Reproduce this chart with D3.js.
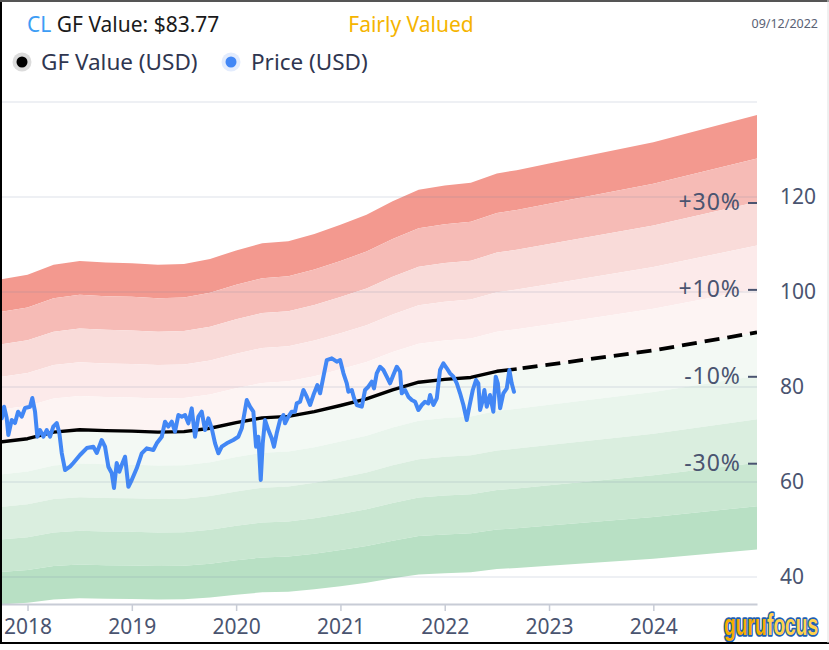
<!DOCTYPE html>
<html><head><meta charset="utf-8">
<script src="https://cdn.jsdelivr.net/npm/d3@7"></script>
<style>body{margin:0;background:#fff;} svg{display:block;font-family:"Noto Sans",sans-serif;}</style>
</head><body><svg id="c" width="829" height="650"></svg>
<script>
// ---- data ----
const ticker = "CL";
const gfValueNow = "$83.77";
const valuation = "Fairly Valued";
const dateLabel = "09/12/2022";

const gfYears  = [2017.736, 2018.0, 2018.25, 2018.5, 2018.75, 2019.0, 2019.25, 2019.5, 2019.75, 2020.0, 2020.25, 2020.5, 2020.75, 2021.0, 2021.25, 2021.5, 2021.75, 2022.0, 2022.25, 2022.5, 2022.69];
const gfValues = [68.4, 69.1, 70.5, 71.0, 70.8, 70.7, 70.5, 70.6, 71.3, 72.5, 73.5, 73.8, 74.8, 76.1, 77.5, 79.4, 81.0, 81.6, 82.0, 83.3, 83.77];
const forecastYears  = [2022.69, 2023.0, 2024.0, 2024.994];
const forecastValues = [83.77, 84.7, 87.7, 91.5];

const priceYears = [2017.753,2017.775,2017.800,2017.816,2017.848,2017.880,2017.909,2017.944,2017.976,2018.024,2018.046,2018.072,2018.094,2018.120,2018.152,2018.184,2018.216,2018.247,2018.280,2018.305,2018.328,2018.360,2018.407,2018.439,2018.503,2018.568,2018.631,2018.664,2018.711,2018.743,2018.775,2018.807,2018.829,2018.855,2018.880,2018.903,2018.935,2018.967,2018.999,2019.047,2019.095,2019.143,2019.206,2019.239,2019.287,2019.318,2019.350,2019.383,2019.414,2019.446,2019.479,2019.510,2019.542,2019.574,2019.606,2019.638,2019.670,2019.702,2019.734,2019.766,2019.798,2019.830,2019.862,2019.910,2019.973,2020.021,2020.054,2020.102,2020.133,2020.165,2020.191,2020.213,2020.236,2020.255,2020.277,2020.309,2020.341,2020.363,2020.389,2020.421,2020.453,2020.469,2020.501,2020.533,2020.565,2020.581,2020.613,2020.645,2020.677,2020.709,2020.741,2020.779,2020.805,2020.837,2020.869,2020.917,2020.965,2020.997,2021.029,2021.061,2021.076,2021.109,2021.131,2021.157,2021.205,2021.236,2021.268,2021.301,2021.322,2021.348,2021.380,2021.412,2021.444,2021.476,2021.507,2021.540,2021.572,2021.588,2021.620,2021.651,2021.684,2021.716,2021.747,2021.780,2021.811,2021.843,2021.860,2021.891,2021.924,2021.955,2021.987,2022.020,2022.051,2022.083,2022.116,2022.147,2022.179,2022.211,2022.236,2022.269,2022.300,2022.322,2022.339,2022.361,2022.380,2022.403,2022.434,2022.466,2022.489,2022.509,2022.531,2022.562,2022.595,2022.620,2022.642,2022.664];
const priceValues = [73.40,75.84,73.46,69.88,73.04,72.41,74.79,73.74,75.57,75.84,77.67,74.79,69.52,70.93,69.52,70.93,69.52,71.63,72.41,70.30,66.09,62.51,63.21,63.99,65.67,67.14,67.42,66.09,68.83,67.42,63.21,61.88,58.72,63.99,62.15,63.56,65.31,58.99,60.41,62.87,66.03,67.08,66.72,68.13,69.52,72.68,71.63,72.68,70.58,74.09,73.74,74.09,72.34,75.50,69.52,73.74,74.79,70.93,73.40,71.29,68.13,66.03,67.42,68.13,68.83,69.52,71.29,77.25,75.84,74.79,67.42,69.52,60.41,68.13,73.04,70.93,69.19,67.42,70.24,73.04,74.09,72.34,73.74,74.79,74.79,76.55,76.89,79.36,77.95,76.20,78.30,80.41,78.66,82.16,85.67,86.03,85.32,85.67,82.87,80.77,79.00,79.36,77.61,76.20,75.84,79.36,80.05,81.10,79.71,82.87,84.26,83.57,82.16,80.77,82.52,84.26,83.21,78.66,79.36,77.95,77.25,76.89,75.15,76.20,76.89,76.55,78.30,76.20,77.61,83.57,84.98,83.93,82.87,82.16,80.77,78.66,76.20,73.04,75.84,79.36,81.46,80.77,75.15,76.89,79.36,75.84,78.30,74.79,82.16,80.77,75.50,78.66,79.71,83.57,80.77,79.00];

const yTicks = [40, 60, 80, 100, 120, 140];
const yTickLabels = ["40", "60", "80", "100", "120", ""];
const xTicks = [2018, 2019, 2020, 2021, 2022, 2023, 2024];
const xTickLabels = ["2018", "2019", "2020", "2021", "2022", "2023", "2024"];

const bandLow  = [1.4, 1.3, 1.2, 1.1, 1.0, 0.9, 0.8, 0.7, 0.6, 0.5];
const bandHigh = [1.5, 1.4, 1.3, 1.2, 1.1, 1.0, 0.9, 0.8, 0.7, 0.6];
const bandColors = ["#f3998f", "#f6bbb6", "#f9dbd9", "#fceaea", "#fdf4f3", "#f3f9f4", "#e9f5ec", "#daeedf", "#c9e7d1", "#b8e0c4"];

const pctLabels  = ["+30%", "+10%", "-10%", "-30%"];
const pctOffsets = [0.3, 0.1, -0.1, -0.3];

const logoParts = ["guru", "focus"];

// ---- chart ----
const svg = d3.select("#c");
const W = 829, H = 650;
const plotL = 0, plotR = 757, plotT = 102, plotB = 604;

const x = d3.scaleLinear().domain([2017.736, 2024.994]).range([plotL, plotR]);
const y = d3.scaleLinear().domain([34.3, 140]).range([plotB, plotT]);

const gfAll = gfYears.map((t, i) => ({t, v: gfValues[i]}))
  .concat(forecastYears.slice(1).map((t, i) => ({t, v: forecastValues[i + 1]})));

svg.append("defs").append("clipPath").attr("id", "pc")
  .append("rect").attr("x", plotL).attr("y", plotT - 20).attr("width", plotR - plotL).attr("height", plotB - plotT + 20);

const g = svg.append("g").attr("clip-path", "url(#pc)");

bandLow.forEach((lo, i) => {
  const hi = bandHigh[i];
  const area = d3.area().x(d => x(d.t)).y0(d => y(d.v * lo)).y1(d => y(d.v * hi));
  g.append("path").datum(gfAll).attr("d", area).attr("fill", bandColors[i]);
});

// gridlines
svg.append("g").selectAll("line").data(yTicks).join("line")
  .attr("x1", plotL).attr("x2", plotR)
  .attr("y1", d => y(d)).attr("y2", d => y(d))
  .attr("stroke", "rgba(110,130,160,0.16)").attr("stroke-width", 1.5);

// GF value lines
const line = d3.line().x(d => x(d.t)).y(d => y(d.v));
g.append("path").datum(gfYears.map((t, i) => ({t, v: gfValues[i]})))
  .attr("d", line).attr("fill", "none").attr("stroke", "#000").attr("stroke-width", 3.4).attr("stroke-linejoin", "round");
g.append("path").datum(forecastYears.map((t, i) => ({t, v: forecastValues[i]})))
  .attr("d", line).attr("fill", "none").attr("stroke", "#000").attr("stroke-width", 3.8)
  .attr("stroke-dasharray", "15,8").attr("stroke-dashoffset", -6);

// price line
g.append("path").datum(priceYears.map((t, i) => ({t, v: priceValues[i]})))
  .attr("d", line).attr("fill", "none").attr("stroke", "#4287f5").attr("stroke-width", 4)
  .attr("stroke-linejoin", "round").attr("stroke-linecap", "round");

// percent labels at right end
const gfEnd = forecastValues[forecastValues.length - 1];
const pg = svg.append("g");
pctLabels.forEach((lab, i) => {
  const yy = y(gfEnd * (1 + pctOffsets[i]));
  pg.append("text").attr("x", 741).attr("y", yy).attr("dy", "0.35em")
    .attr("text-anchor", "end").attr("font-size", 23).attr("letter-spacing", 1).attr("fill", "#4a5470").text(lab);
  pg.append("line").attr("x1", 748).attr("x2", 757).attr("y1", yy + 1).attr("y2", yy + 1)
    .attr("stroke", "#4a5470").attr("stroke-width", 2);
});

// right axis labels
svg.append("g").selectAll("text").data(yTicks).join("text")
  .attr("x", 780).attr("y", d => y(d)).attr("dy", "0.35em")
  .attr("font-size", 21).attr("fill", "#4a5470").text((d, i) => yTickLabels[i]);

// bottom axis
const xAxis = d3.axisBottom(x).tickValues(xTicks).tickSize(7).tickSizeOuter(0).tickPadding(8)
  .tickFormat((d, i) => xTickLabels[i]);
const ax = svg.append("g").attr("transform", `translate(0,${plotB})`).call(xAxis);
ax.select(".domain").attr("stroke", "#c8ccd6").attr("stroke-width", 2);
ax.selectAll(".tick line").attr("stroke", "#c8ccd6").attr("stroke-width", 1.5);
ax.selectAll(".tick text").attr("font-size", 21).attr("fill", "#4a5470")
  .attr("font-family", "Noto Sans, sans-serif");

// header
const hdr = svg.append("text").attr("x", 27).attr("y", 32).attr("font-size", 21);
hdr.append("tspan").attr("fill", "#3d9df5").text(ticker + " ");
hdr.append("tspan").attr("fill", "#1a1a1a").text("GF Value: " + gfValueNow);
svg.append("text").attr("x", 411).attr("y", 32).attr("text-anchor", "middle")
  .attr("font-size", 21).attr("fill", "#f5b400").text(valuation);
svg.append("text").attr("x", 818).attr("y", 28).attr("text-anchor", "end")
  .attr("font-size", 12.5).attr("fill", "#5a6275").text(dateLabel);

// legend
svg.append("circle").attr("cx", 22).attr("cy", 62).attr("r", 9.5).attr("fill", "#dcdcdc");
svg.append("circle").attr("cx", 22).attr("cy", 62).attr("r", 5.5).attr("fill", "#000");
svg.append("text").attr("x", 41).attr("y", 70).attr("font-size", 22.5).attr("fill", "#2f3650").text("GF Value (USD)");
svg.append("circle").attr("cx", 231).attr("cy", 62).attr("r", 9.5).attr("fill", "#e3ecfd");
svg.append("circle").attr("cx", 231).attr("cy", 62).attr("r", 5.5).attr("fill", "#4287f5");
svg.append("text").attr("x", 251).attr("y", 70).attr("font-size", 22.5).attr("fill", "#2f3650").text("Price (USD)");

// logo (two separate words, condensed horizontally and stretched vertically)
const logoX = [724, 767], logoFill = ["#f7ae00", "#ffd34d"];
logoParts.forEach((w, i) => {
  svg.append("text").attr("transform", `translate(${logoX[i]},635) scale(0.8,1.2)`)
    .attr("font-size", 24)
    .attr("font-family", "Liberation Sans, Arial, sans-serif").attr("font-weight", "bold")
    .attr("stroke", "#1d5fb4").attr("stroke-width", 3).attr("paint-order", "stroke")
    .attr("stroke-linejoin", "round").attr("fill", logoFill[i]).text(w);
});

// frame
svg.append("line").attr("x1", 1).attr("x2", 1).attr("y1", 0).attr("y2", 643).attr("stroke", "#000").attr("stroke-width", 2);
svg.append("line").attr("x1", 0).attr("x2", W).attr("y1", 1).attr("y2", 1).attr("stroke", "#555").attr("stroke-width", 2);
svg.append("line").attr("x1", 0).attr("x2", W).attr("y1", 643).attr("y2", 643).attr("stroke", "#000").attr("stroke-width", 2);
svg.append("line").attr("x1", 828).attr("x2", 828).attr("y1", 0).attr("y2", 643).attr("stroke", "#e0e0e0").attr("stroke-width", 1);
</script></body></html>
